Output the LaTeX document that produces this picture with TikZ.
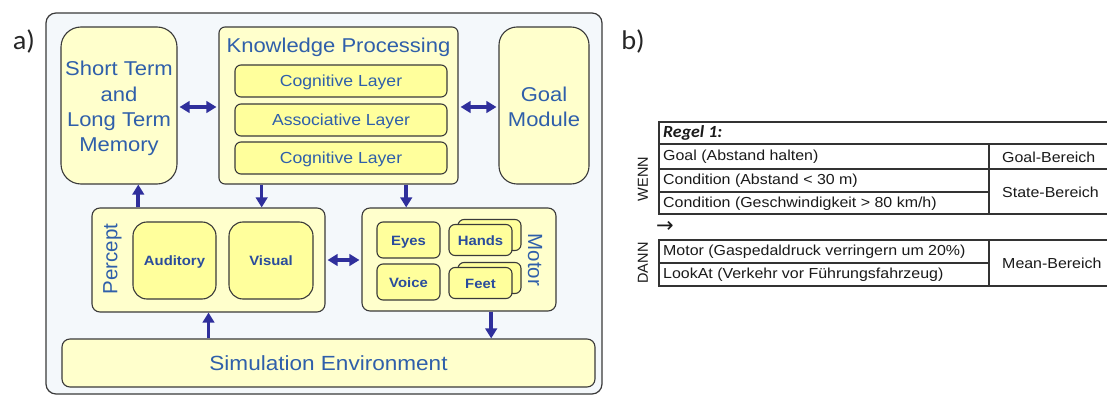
\documentclass[tikz,border=0pt]{standalone}
\usepackage{fontspec}
\setmainfont{Liberation Sans}[FakeStretch=1.1]
\newfontfamily\plainsf{Liberation Sans}
\newfontfamily\calib{Carlito}[FakeStretch=1.05]
\newfontfamily\arrowfont{DejaVu Sans}
\usetikzlibrary{arrows.meta,calc}
\definecolor{bgblue}{HTML}{F4F8FB}
\definecolor{frameline}{HTML}{3A3A3A}
\definecolor{lightyellow}{HTML}{FFFFCC}
\definecolor{midyellow}{HTML}{FFFF9C}
\definecolor{textblue}{HTML}{2F5FAA}
\definecolor{boldblue}{HTML}{2A4C9C}
\definecolor{arrowblue}{HTML}{2F2F9C}
\definecolor{tabline}{HTML}{333333}
\definecolor{tabtext}{HTML}{1A1A1A}
\tikzset{
  bigbox/.style={draw=frameline, line width=1.1pt, fill=lightyellow, inner sep=0pt,
    text=textblue, font=\fontsize{20}{25}\selectfont, align=center},
  bigtext/.style={inner sep=0pt, text=textblue, font=\fontsize{20}{25}\selectfont, align=center},
  layerbox/.style={draw=frameline, line width=1.1pt, fill=midyellow, rounded corners=6pt,
    minimum width=212pt, minimum height=32pt, inner sep=0pt, text=textblue,
    font=\fontsize{16}{19}\selectfont, text height=11.5pt, text depth=0pt},
  sensebox/.style={draw=frameline, line width=1.1pt, fill=midyellow, inner sep=0pt,
    text=boldblue, font=\fontsize{13.5}{16}\selectfont\bfseries, text height=10pt, text depth=0pt},
  arr/.style={draw=arrowblue, line width=3.6pt, -{Triangle[length=10pt,width=11.5pt]}},
  darr/.style={draw=arrowblue, line width=3.6pt,
    {Triangle[length=10pt,width=11.5pt]}-{Triangle[length=10pt,width=11.5pt]}},
  cell/.style={anchor=west, inner sep=0pt, text=tabtext, font=\fontsize{14.5}{17}\selectfont},
  rowlabel/.style={inner sep=0pt, text=tabtext, rotate=90, font=\plainsf\fontsize{14.5}{17}\selectfont},
  tab/.style={draw=tabline, line width=1.1pt},
}
\begin{document}
\begin{tikzpicture}[x=1pt,y=-1pt]
\useasboundingbox[fill=white] (0,0) rectangle (1107,398);

% labels a) b)
\node[inner sep=0pt, font=\calib\fontsize{27}{30}\selectfont, text=black!85] (la) at (24,41) {a)};
\node[inner sep=0pt, font=\calib\fontsize{27}{30}\selectfont, text=black!85] (lb) at (633,41) {b)};

% frame
\node[draw=frameline, line width=1.2pt, fill=bgblue, rounded corners=10pt,
  minimum width=556pt, minimum height=381pt, inner sep=0pt] (frame) at (324,203.5) {};

% top row
\node[bigbox, rounded corners=20pt, minimum width=116pt, minimum height=157pt] (stm) at (119,105.5) {};
\node[bigtext, font=\fontsize{20}{25.2}\selectfont] (stmtext) at (119,108.5)
  {Short Term\\and\\Long Term\\Memory};
\node[bigbox, rounded corners=6pt, minimum width=239pt, minimum height=157pt] (kp) at (338.5,105.5) {};
\node[inner sep=0pt, text=textblue, font=\fontsize{20}{24}\selectfont, text height=14.5pt, text depth=0pt] (kptitle) at (338.5,45.5) {Knowledge Processing};
\node[layerbox] (cl1) at (341,81) {Cognitive Layer};
\node[layerbox] (al) at (341,120) {Associative Layer};
\node[layerbox] (cl2) at (341,158) {Cognitive Layer};
\node[bigbox, rounded corners=18pt, minimum width=90pt, minimum height=157pt] (goal) at (544,105.5) {};
\node[bigtext] (goaltext) at (544,107) {Goal\\Module};

% middle row
\node[bigbox, rounded corners=8pt, minimum width=233pt, minimum height=104pt] (percept) at (208.5,260) {};
\node[inner sep=0pt, text=textblue, rotate=90, font=\plainsf\fontsize{20.5}{24}\selectfont] (perceptlabel) at (112.5,259) {Percept};
\node[sensebox, rounded corners=14pt, minimum width=83pt, minimum height=77pt] (aud) at (174.5,260.5) {Auditory};
\node[sensebox, rounded corners=14pt, minimum width=84pt, minimum height=77pt] (vis) at (271,260.5) {Visual};

\node[bigbox, rounded corners=8pt, minimum width=194pt, minimum height=103pt] (motor) at (459,259.5) {};
\node[inner sep=0pt, text=textblue, rotate=-90, font=\plainsf\fontsize{20.5}{24}\selectfont] (motorlabel) at (535,260) {Motor};
\node[sensebox, rounded corners=6pt, minimum width=63pt, minimum height=36pt] (eyes) at (408.5,240) {Eyes};
\node[sensebox, rounded corners=6pt, minimum width=63pt, minimum height=36pt] (voice) at (408.5,282) {Voice};
\node[sensebox, rounded corners=6pt, minimum width=63pt, minimum height=31pt] (handsback) at (489.5,235) {};
\node[sensebox, rounded corners=6pt, minimum width=63pt, minimum height=31pt] (hands) at (480.5,240) {Hands};
\node[sensebox, rounded corners=6pt, minimum width=63pt, minimum height=31pt] (feetback) at (489.5,278) {};
\node[sensebox, rounded corners=6pt, minimum width=63pt, minimum height=31pt] (feet) at (480.5,283) {Feet};

% bottom
\node[bigbox, rounded corners=8pt, minimum width=533pt, minimum height=48pt,
  font=\fontsize{20.5}{24}\selectfont, text height=15pt, text depth=0pt] (sim) at (328.5,363) {Simulation Environment};

% connectors
\draw[darr] ([xshift=2pt]stm.east |- 0,107) -- ([xshift=-2pt]kp.west |- 0,107);
\draw[darr] ([xshift=2pt]kp.east |- 0,107) -- ([xshift=-2pt]goal.west |- 0,107);
\draw[arr] ($(percept.north west)!0.2!(percept.north east)$) coordinate (p1) -- (p1 |- stm.south);
\draw[arr] ($(kp.south west)!0.18!(kp.south east)$) coordinate (k1) -- (k1 |- percept.north);
\draw[arr] ($(kp.south west)!0.782!(kp.south east)$) coordinate (k2) -- (k2 |- motor.north);
\draw[darr] ([xshift=2pt]percept.east) -- ([xshift=-2pt]motor.west |- percept.east);
\draw[arr] (sim.north -| percept.south) -- (percept.south);
\draw[arr] ($(motor.south west)!0.665!(motor.south east)$) coordinate (m1) -- (m1 |- sim.north);

% table b)
\draw[tab] (1107,122) -- (659,122) -- (659,214) -- (1107,214);
\draw[tab] (659,144) -- (1107,144);
\draw[tab] (659,169) -- (1107,169);
\draw[tab] (659,192) -- (989,192);
\draw[tab] (989,144) -- (989,214);
\draw[tab] (1107,240) -- (659,240) -- (659,286) -- (1107,286);
\draw[tab] (659,263) -- (989,263);
\draw[tab] (989,240) -- (989,286);

\node[cell, font=\calib\fontsize{17}{19}\selectfont\bfseries\itshape] (regel) at (663,133) {Regel 1:};
\node[cell] (c1) at (663,157) {Goal (Abstand halten)};
\node[cell] (c2) at (663,180.5) {Condition (Abstand < 30 m)};
\node[cell] (c3) at (663,203.5) {Condition (Geschwindigkeit > 80 km/h)};
\node[cell] (r1) at (1002,157) {Goal-Bereich};
\node[cell] (r2) at (1002,192) {State-Bereich};
\node[inner sep=0pt, text=tabtext, font=\arrowfont\fontsize{21}{23}\selectfont] (then) at (665,227) {→};
\node[cell] (d1) at (663,251.5) {Motor (Gaspedaldruck verringern um 20\%)};
\node[cell] (d2) at (663,274.5) {LookAt (Verkehr vor Führungsfahrzeug)};
\node[cell] (r3) at (1002,263) {Mean-Bereich};
\node[rowlabel] (wenn) at (643,179) {WENN};
\node[rowlabel] (dann) at (643,263) {DANN};
\end{tikzpicture}
\end{document}
